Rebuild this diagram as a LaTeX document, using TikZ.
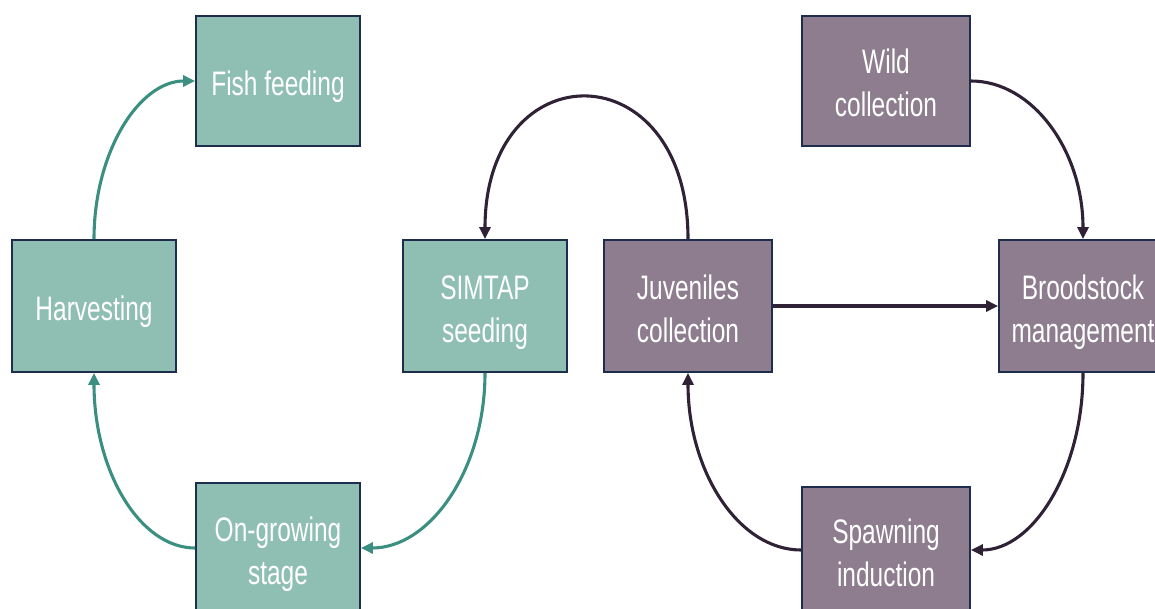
\documentclass[tikz,border=0pt]{standalone}
\usepackage{fontspec}
\setmainfont{Liberation Sans}[FakeStretch=0.72]
\usetikzlibrary{arrows.meta}
\definecolor{tealfill}{HTML}{8FBEB3}
\definecolor{mauvefill}{HTML}{8D7D8E}
\definecolor{boxborder}{HTML}{1E2D4E}
\definecolor{tealarrow}{HTML}{3B8F81}
\definecolor{darkarrow}{HTML}{2F2236}
\newcommand{\topstrut}{\rule{0pt}{46pt}}
\newcommand{\botstrut}{\rule[-17pt]{0pt}{17pt}}
\tikzset{
  box/.style={draw=boxborder, line width=1.8pt, text=white, align=center,
    inner sep=0pt, font=\fontsize{34}{43}\selectfont},
  tealbox/.style={box, fill=tealfill, minimum width=164pt},
  mauvebox/.style={box, fill=mauvefill, minimum width=168pt},
  tarrow/.style={draw=tealarrow, line width=3.1pt, -{Triangle[length=12pt,width=11pt]}},
  darrow/.style={draw=darkarrow, line width=3.1pt, -{Triangle[length=12pt,width=11pt]}},
}
\begin{document}
\begin{tikzpicture}[x=1pt,y=-1pt]
\useasboundingbox (0,0) rectangle (1155,609);
\node[tealbox, minimum height=130pt] (fish) at (278,81) {\topstrut Fish feeding\botstrut};
\node[tealbox, minimum height=132pt] (harv) at (94,306) {\topstrut Harvesting\botstrut};
\node[tealbox, minimum height=132pt] (simtap) at (485,306) {\topstrut SIMTAP\\seeding\botstrut};
\node[tealbox, minimum height=130pt] (ongrow) at (278,548) {\topstrut On-growing\\stage\botstrut};
\node[mauvebox, minimum height=132pt] (juv) at (688,306) {\topstrut Juveniles\\collection\botstrut};
\node[mauvebox, minimum height=130pt] (wild) at (886,81) {\topstrut Wild\\collection\botstrut};
\node[mauvebox, minimum height=132pt] (brood) at (1083,306) {\topstrut Broodstock\\management\botstrut};
\node[mauvebox, minimum height=126pt] (spawn) at (886,550) {\topstrut Spawning\\induction\botstrut};
% teal arrows
\draw[tarrow] (harv.north) .. controls +(0,-87) and +(-56,0) .. (fish.west);
\draw[tarrow] (ongrow.west) .. controls +(-56,0) and +(0,97) .. (harv.south);
\draw[tarrow] (simtap.south) .. controls +(0,97) and +(69,0) .. (ongrow.east);
% dark arrows
\draw[darrow] (juv.north) .. controls +(0,-189) and +(0,-189) .. (simtap.north);
\draw[darrow, line width=3.8pt] (juv.east) -- (brood.west);
\draw[darrow] (wild.east) .. controls +(62,0) and +(0,-88) .. (brood.north);
\draw[darrow] (brood.south) .. controls +(0,98) and +(62,0) .. (spawn.east);
\draw[darrow] (spawn.west) .. controls +(-63,0) and +(0,98) .. (juv.south);
\end{tikzpicture}
\end{document}
